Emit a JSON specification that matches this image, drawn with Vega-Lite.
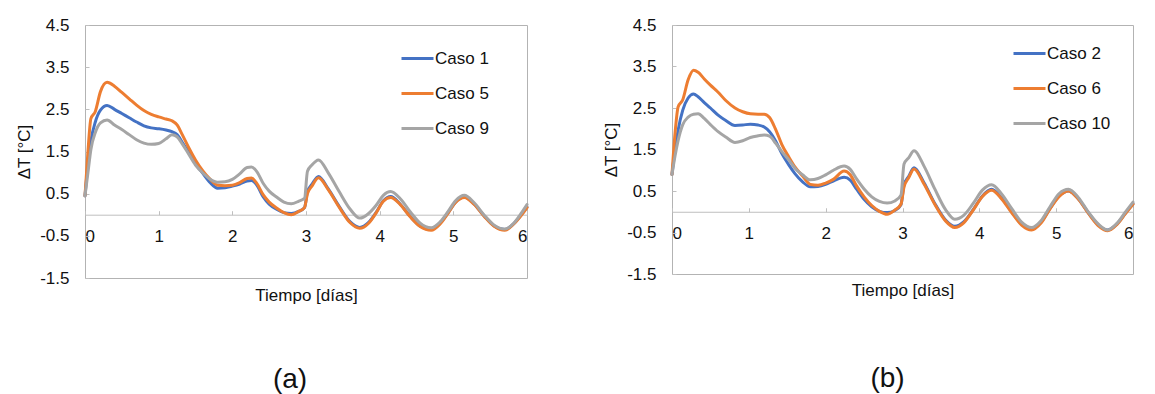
{
  "$schema": "https://vega.github.io/schema/vega-lite/v6.json",
  "background": "white",
  "padding": {"left": 15, "top": 15, "right": 0, "bottom": 0},
  "spacing": 73,
  "config": {
    "font": "Liberation Sans",
    "view": {"stroke": "#b3b3b3", "strokeWidth": 1},
    "axis": {
      "labelFont": "Liberation Sans", "labelFontSize": 17, "labelColor": "#111111",
      "titleFont": "Liberation Sans", "titleFontSize": 17, "titleFontWeight": "normal", "titleColor": "#111111",
      "grid": false, "domainColor": "#bfbfbf", "tickColor": "#bfbfbf", "tickSize": -4
    },
    "legend": {
      "labelFont": "Liberation Sans", "labelFontSize": 17, "labelColor": "#111111",
      "symbolType": "stroke", "symbolSize": 1024, "symbolStrokeWidth": 3,
      "rowPadding": 9, "labelOffset": 0, "padding": 0, "offset": 0
    },
    "title": {"font": "Liberation Sans", "fontSize": 28, "fontWeight": "normal", "color": "#111111"}
  },
  "datasets": {
    "a": [
      {"t": 0.00, "Caso 1": 0.45, "Caso 5": 0.45, "Caso 9": 0.45},
      {"t": 0.04, "Caso 1": 1.20, "Caso 5": 1.50, "Caso 9": 1.00},
      {"t": 0.08, "Caso 1": 1.75, "Caso 5": 2.28, "Caso 9": 1.55},
      {"t": 0.14, "Caso 1": 2.20, "Caso 5": 2.45, "Caso 9": 1.95},
      {"t": 0.21, "Caso 1": 2.48, "Caso 5": 2.92, "Caso 9": 2.18},
      {"t": 0.30, "Caso 1": 2.59, "Caso 5": 3.14, "Caso 9": 2.25},
      {"t": 0.40, "Caso 1": 2.50, "Caso 5": 3.05, "Caso 9": 2.13},
      {"t": 0.50, "Caso 1": 2.40, "Caso 5": 2.90, "Caso 9": 2.02},
      {"t": 0.60, "Caso 1": 2.30, "Caso 5": 2.75, "Caso 9": 1.90},
      {"t": 0.70, "Caso 1": 2.20, "Caso 5": 2.60, "Caso 9": 1.78},
      {"t": 0.80, "Caso 1": 2.11, "Caso 5": 2.47, "Caso 9": 1.70},
      {"t": 0.90, "Caso 1": 2.06, "Caso 5": 2.38, "Caso 9": 1.67},
      {"t": 1.00, "Caso 1": 2.04, "Caso 5": 2.32, "Caso 9": 1.69},
      {"t": 1.10, "Caso 1": 2.01, "Caso 5": 2.27, "Caso 9": 1.80},
      {"t": 1.18, "Caso 1": 1.97, "Caso 5": 2.23, "Caso 9": 1.90},
      {"t": 1.25, "Caso 1": 1.90, "Caso 5": 2.13, "Caso 9": 1.85},
      {"t": 1.32, "Caso 1": 1.72, "Caso 5": 1.90, "Caso 9": 1.68},
      {"t": 1.40, "Caso 1": 1.50, "Caso 5": 1.62, "Caso 9": 1.46},
      {"t": 1.50, "Caso 1": 1.21, "Caso 5": 1.30, "Caso 9": 1.18},
      {"t": 1.60, "Caso 1": 0.98, "Caso 5": 1.04, "Caso 9": 0.99},
      {"t": 1.70, "Caso 1": 0.76, "Caso 5": 0.84, "Caso 9": 0.84},
      {"t": 1.80, "Caso 1": 0.63, "Caso 5": 0.70, "Caso 9": 0.77},
      {"t": 1.90, "Caso 1": 0.64, "Caso 5": 0.69, "Caso 9": 0.78},
      {"t": 2.00, "Caso 1": 0.68, "Caso 5": 0.70, "Caso 9": 0.84},
      {"t": 2.10, "Caso 1": 0.73, "Caso 5": 0.76, "Caso 9": 0.97},
      {"t": 2.20, "Caso 1": 0.80, "Caso 5": 0.86, "Caso 9": 1.12},
      {"t": 2.26, "Caso 1": 0.81, "Caso 5": 0.87, "Caso 9": 1.13},
      {"t": 2.33, "Caso 1": 0.71, "Caso 5": 0.75, "Caso 9": 1.03},
      {"t": 2.42, "Caso 1": 0.42, "Caso 5": 0.47, "Caso 9": 0.74},
      {"t": 2.50, "Caso 1": 0.25, "Caso 5": 0.30, "Caso 9": 0.56},
      {"t": 2.60, "Caso 1": 0.13, "Caso 5": 0.16, "Caso 9": 0.42},
      {"t": 2.70, "Caso 1": 0.05, "Caso 5": 0.05, "Caso 9": 0.30},
      {"t": 2.80, "Caso 1": 0.03, "Caso 5": 0.00, "Caso 9": 0.26},
      {"t": 2.90, "Caso 1": 0.08, "Caso 5": 0.08, "Caso 9": 0.32},
      {"t": 2.98, "Caso 1": 0.17, "Caso 5": 0.17, "Caso 9": 0.39},
      {"t": 3.02, "Caso 1": 0.55, "Caso 5": 0.50, "Caso 9": 1.03},
      {"t": 3.08, "Caso 1": 0.72, "Caso 5": 0.68, "Caso 9": 1.18},
      {"t": 3.17, "Caso 1": 0.91, "Caso 5": 0.88, "Caso 9": 1.30},
      {"t": 3.30, "Caso 1": 0.62, "Caso 5": 0.60, "Caso 9": 1.00},
      {"t": 3.45, "Caso 1": 0.20, "Caso 5": 0.18, "Caso 9": 0.55},
      {"t": 3.60, "Caso 1": -0.17, "Caso 5": -0.19, "Caso 9": 0.13},
      {"t": 3.73, "Caso 1": -0.30, "Caso 5": -0.32, "Caso 9": -0.08},
      {"t": 3.85, "Caso 1": -0.18, "Caso 5": -0.20, "Caso 9": 0.03},
      {"t": 3.95, "Caso 1": 0.05, "Caso 5": 0.04, "Caso 9": 0.22},
      {"t": 4.05, "Caso 1": 0.33, "Caso 5": 0.32, "Caso 9": 0.46},
      {"t": 4.15, "Caso 1": 0.43, "Caso 5": 0.41, "Caso 9": 0.55},
      {"t": 4.28, "Caso 1": 0.25, "Caso 5": 0.24, "Caso 9": 0.38},
      {"t": 4.42, "Caso 1": -0.05, "Caso 5": -0.06, "Caso 9": 0.06},
      {"t": 4.55, "Caso 1": -0.27, "Caso 5": -0.28, "Caso 9": -0.20},
      {"t": 4.70, "Caso 1": -0.35, "Caso 5": -0.37, "Caso 9": -0.31},
      {"t": 4.82, "Caso 1": -0.20, "Caso 5": -0.22, "Caso 9": -0.17},
      {"t": 4.93, "Caso 1": 0.05, "Caso 5": 0.04, "Caso 9": 0.08},
      {"t": 5.03, "Caso 1": 0.30, "Caso 5": 0.29, "Caso 9": 0.33},
      {"t": 5.15, "Caso 1": 0.42, "Caso 5": 0.41, "Caso 9": 0.46},
      {"t": 5.28, "Caso 1": 0.26, "Caso 5": 0.25, "Caso 9": 0.29},
      {"t": 5.42, "Caso 1": -0.03, "Caso 5": -0.04, "Caso 9": -0.01},
      {"t": 5.55, "Caso 1": -0.26, "Caso 5": -0.27, "Caso 9": -0.24},
      {"t": 5.70, "Caso 1": -0.35, "Caso 5": -0.37, "Caso 9": -0.34},
      {"t": 5.82, "Caso 1": -0.21, "Caso 5": -0.22, "Caso 9": -0.20},
      {"t": 5.92, "Caso 1": -0.01, "Caso 5": -0.02, "Caso 9": 0.03},
      {"t": 6.00, "Caso 1": 0.18, "Caso 5": 0.17, "Caso 9": 0.24}
    ],
    "b": [
      {"t": 0.00, "Caso 2": 0.90, "Caso 6": 0.90, "Caso 10": 0.90},
      {"t": 0.04, "Caso 2": 1.50, "Caso 6": 1.90, "Caso 10": 1.35},
      {"t": 0.08, "Caso 2": 1.97, "Caso 6": 2.53, "Caso 10": 1.72},
      {"t": 0.14, "Caso 2": 2.45, "Caso 6": 2.70, "Caso 10": 2.10},
      {"t": 0.21, "Caso 2": 2.74, "Caso 6": 3.18, "Caso 10": 2.28},
      {"t": 0.28, "Caso 2": 2.84, "Caso 6": 3.41, "Caso 10": 2.35},
      {"t": 0.34, "Caso 2": 2.77, "Caso 6": 3.36, "Caso 10": 2.36},
      {"t": 0.42, "Caso 2": 2.63, "Caso 6": 3.20, "Caso 10": 2.25},
      {"t": 0.50, "Caso 2": 2.50, "Caso 6": 3.05, "Caso 10": 2.10},
      {"t": 0.60, "Caso 2": 2.33, "Caso 6": 2.88, "Caso 10": 1.93},
      {"t": 0.70, "Caso 2": 2.20, "Caso 6": 2.68, "Caso 10": 1.80},
      {"t": 0.82, "Caso 2": 2.08, "Caso 6": 2.50, "Caso 10": 1.67},
      {"t": 0.92, "Caso 2": 2.09, "Caso 6": 2.41, "Caso 10": 1.71},
      {"t": 1.02, "Caso 2": 2.11, "Caso 6": 2.36, "Caso 10": 1.79},
      {"t": 1.12, "Caso 2": 2.09, "Caso 6": 2.35, "Caso 10": 1.83},
      {"t": 1.20, "Caso 2": 2.04, "Caso 6": 2.35, "Caso 10": 1.85},
      {"t": 1.27, "Caso 2": 1.93, "Caso 6": 2.27, "Caso 10": 1.82},
      {"t": 1.35, "Caso 2": 1.70, "Caso 6": 1.98, "Caso 10": 1.65},
      {"t": 1.43, "Caso 2": 1.40, "Caso 6": 1.62, "Caso 10": 1.45},
      {"t": 1.52, "Caso 2": 1.13, "Caso 6": 1.32, "Caso 10": 1.25},
      {"t": 1.60, "Caso 2": 0.92, "Caso 6": 1.08, "Caso 10": 1.05},
      {"t": 1.70, "Caso 2": 0.72, "Caso 6": 0.86, "Caso 10": 0.89},
      {"t": 1.80, "Caso 2": 0.60, "Caso 6": 0.66, "Caso 10": 0.77},
      {"t": 1.90, "Caso 2": 0.61, "Caso 6": 0.64, "Caso 10": 0.80},
      {"t": 2.00, "Caso 2": 0.66, "Caso 6": 0.69, "Caso 10": 0.89},
      {"t": 2.10, "Caso 2": 0.74, "Caso 6": 0.78, "Caso 10": 1.00},
      {"t": 2.24, "Caso 2": 0.83, "Caso 6": 0.98, "Caso 10": 1.10},
      {"t": 2.32, "Caso 2": 0.76, "Caso 6": 0.89, "Caso 10": 1.02},
      {"t": 2.40, "Caso 2": 0.55, "Caso 6": 0.63, "Caso 10": 0.80},
      {"t": 2.50, "Caso 2": 0.30, "Caso 6": 0.36, "Caso 10": 0.55},
      {"t": 2.60, "Caso 2": 0.12, "Caso 6": 0.15, "Caso 10": 0.36},
      {"t": 2.70, "Caso 2": 0.01, "Caso 6": 0.01, "Caso 10": 0.25},
      {"t": 2.80, "Caso 2": -0.02, "Caso 6": -0.06, "Caso 10": 0.21},
      {"t": 2.90, "Caso 2": 0.03, "Caso 6": 0.04, "Caso 10": 0.26},
      {"t": 2.98, "Caso 2": 0.17, "Caso 6": 0.18, "Caso 10": 0.40},
      {"t": 3.02, "Caso 2": 0.65, "Caso 6": 0.60, "Caso 10": 1.15},
      {"t": 3.08, "Caso 2": 0.85, "Caso 6": 0.82, "Caso 10": 1.30},
      {"t": 3.15, "Caso 2": 1.06, "Caso 6": 1.03, "Caso 10": 1.47},
      {"t": 3.28, "Caso 2": 0.70, "Caso 6": 0.67, "Caso 10": 1.10},
      {"t": 3.42, "Caso 2": 0.20, "Caso 6": 0.18, "Caso 10": 0.55},
      {"t": 3.56, "Caso 2": -0.20, "Caso 6": -0.22, "Caso 10": 0.05},
      {"t": 3.68, "Caso 2": -0.35, "Caso 6": -0.38, "Caso 10": -0.18},
      {"t": 3.80, "Caso 2": -0.24, "Caso 6": -0.26, "Caso 10": -0.08},
      {"t": 3.92, "Caso 2": 0.05, "Caso 6": 0.04, "Caso 10": 0.20},
      {"t": 4.04, "Caso 2": 0.38, "Caso 6": 0.37, "Caso 10": 0.52},
      {"t": 4.16, "Caso 2": 0.54, "Caso 6": 0.52, "Caso 10": 0.65},
      {"t": 4.29, "Caso 2": 0.33, "Caso 6": 0.31, "Caso 10": 0.43},
      {"t": 4.42, "Caso 2": 0.00, "Caso 6": -0.02, "Caso 10": 0.08},
      {"t": 4.55, "Caso 2": -0.30, "Caso 6": -0.32, "Caso 10": -0.25},
      {"t": 4.68, "Caso 2": -0.42, "Caso 6": -0.44, "Caso 10": -0.38},
      {"t": 4.80, "Caso 2": -0.26, "Caso 6": -0.28, "Caso 10": -0.22},
      {"t": 4.92, "Caso 2": 0.08, "Caso 6": 0.07, "Caso 10": 0.12},
      {"t": 5.04, "Caso 2": 0.38, "Caso 6": 0.37, "Caso 10": 0.44},
      {"t": 5.16, "Caso 2": 0.50, "Caso 6": 0.50, "Caso 10": 0.54},
      {"t": 5.29, "Caso 2": 0.31, "Caso 6": 0.30, "Caso 10": 0.34},
      {"t": 5.42, "Caso 2": -0.03, "Caso 6": -0.04, "Caso 10": -0.01},
      {"t": 5.55, "Caso 2": -0.32, "Caso 6": -0.34, "Caso 10": -0.30},
      {"t": 5.67, "Caso 2": -0.44, "Caso 6": -0.46, "Caso 10": -0.44},
      {"t": 5.79, "Caso 2": -0.30, "Caso 6": -0.31, "Caso 10": -0.28},
      {"t": 5.90, "Caso 2": -0.04, "Caso 6": -0.05, "Caso 10": -0.01},
      {"t": 6.00, "Caso 2": 0.19, "Caso 6": 0.18, "Caso 10": 0.23}
    ]
  },
  "hconcat": [
    {
      "width": 442,
      "height": 253,
      "data": {"name": "a"},
      "transform": [{"fold": ["Caso 1", "Caso 5", "Caso 9"], "as": ["caso", "v"]}],
      "title": {"text": "(a)", "orient": "bottom", "anchor": "middle", "offset": 63, "dx": -16},
      "mark": {"type": "line", "interpolate": "monotone", "strokeWidth": 3, "strokeCap": "round", "strokeJoin": "round"},
      "encoding": {
        "x": {
          "field": "t", "type": "quantitative",
          "scale": {"domain": [0, 6], "nice": false, "zero": false},
          "axis": {"title": "Tiempo [días]", "values": [0, 1, 2, 3, 4, 5, 6], "offset": -63.3, "labelPadding": 17.5, "titlePadding": 43}
        },
        "y": {
          "field": "v", "type": "quantitative",
          "scale": {"domain": [-1.5, 4.5], "nice": false, "zero": false},
          "axis": {
            "title": "ΔT [°C]", "values": [-1.5, -0.5, 0.5, 1.5, 2.5, 3.5, 4.5],
            "labelExpr": "datum.value < 0 ? '-' + format(-datum.value, '.1f') : format(datum.value, '.1f')",
            "domain": false, "labelPadding": 20, "titlePadding": 6
          }
        },
        "color": {
          "field": "caso", "type": "nominal",
          "scale": {"domain": ["Caso 1", "Caso 5", "Caso 9"], "range": ["#4472C4", "#ED7D31", "#A5A5A5"]},
          "legend": {"orient": "none", "legendX": 315, "legendY": 16, "title": null}
        }
      }
    },
    {
      "width": 461,
      "height": 249,
      "data": {"name": "b"},
      "transform": [{"fold": ["Caso 2", "Caso 6", "Caso 10"], "as": ["caso", "v"]}],
      "title": {"text": "(b)", "orient": "bottom", "anchor": "middle", "offset": 66, "dx": -15},
      "mark": {"type": "line", "interpolate": "monotone", "strokeWidth": 3, "strokeCap": "round", "strokeJoin": "round"},
      "encoding": {
        "x": {
          "field": "t", "type": "quantitative",
          "scale": {"domain": [0, 6], "nice": false, "zero": false},
          "axis": {"title": "Tiempo [días]", "values": [0, 1, 2, 3, 4, 5, 6], "offset": -62.25, "labelPadding": 18, "titlePadding": 41}
        },
        "y": {
          "field": "v", "type": "quantitative",
          "scale": {"domain": [-1.5, 4.5], "nice": false, "zero": false},
          "axis": {
            "title": "ΔT [°C]", "values": [-1.5, -0.5, 0.5, 1.5, 2.5, 3.5, 4.5],
            "labelExpr": "datum.value < 0 ? '-' + format(-datum.value, '.1f') : format(datum.value, '.1f')",
            "domain": false, "labelPadding": 20, "titlePadding": 6
          }
        },
        "color": {
          "field": "caso", "type": "nominal",
          "scale": {"domain": ["Caso 2", "Caso 6", "Caso 10"], "range": ["#4472C4", "#ED7D31", "#A5A5A5"]},
          "legend": {"orient": "none", "legendX": 340, "legendY": 11, "title": null}
        }
      }
    }
  ],
  "resolve": {
    "scale": {"color": "independent", "x": "independent", "y": "independent"},
    "legend": {"color": "independent"}
  }
}
